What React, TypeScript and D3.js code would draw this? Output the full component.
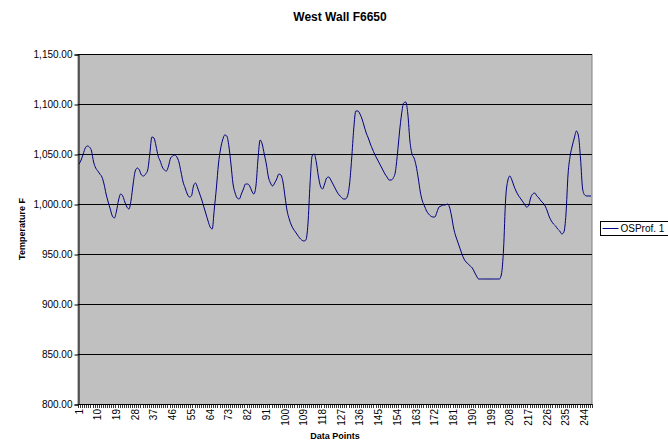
import { useEffect, useRef } from "react";
import * as d3 from "d3";

// West Wall F6650 - OSProf. 1 temperature readings (deg F), one value per data point
const temps = [
  1040, 1044, 1050, 1056, 1058, 1057, 1053, 1042, 1036, 1033,
  1030, 1027, 1020, 1010, 1002, 995, 988, 986, 993, 1004,
  1010, 1008, 1002, 997, 995, 1004, 1020, 1033, 1036, 1034,
  1029, 1028, 1030, 1034, 1050, 1067, 1066, 1058, 1048, 1043,
  1037, 1034, 1033, 1038, 1046, 1048, 1049, 1047, 1042, 1032,
  1022, 1016, 1010, 1007, 1008, 1018, 1021, 1016, 1010, 1004,
  997, 990, 983, 977, 975, 995, 1016, 1040, 1055, 1064,
  1069, 1068, 1058, 1040, 1020, 1011, 1006, 1005, 1010, 1015,
  1020, 1020, 1018, 1013, 1010, 1018, 1045, 1064, 1060, 1050,
  1040, 1027, 1021, 1018, 1021, 1025, 1030, 1029, 1022, 1007,
  993, 985, 979, 975, 972, 969, 966, 964, 963, 964,
  980, 1020, 1048, 1050, 1042, 1028, 1018, 1015, 1020, 1026,
  1027, 1024, 1020, 1016, 1012, 1009, 1007, 1005, 1005, 1008,
  1020, 1045, 1075, 1093, 1093, 1090, 1085, 1078, 1071, 1066,
  1060, 1055, 1050, 1046, 1042, 1038, 1034, 1030, 1027, 1024,
  1024, 1026, 1032, 1050, 1072, 1090, 1101, 1102, 1090, 1063,
  1050, 1046, 1038, 1026, 1012, 1003, 998, 993, 990, 988,
  987, 987, 992, 997, 998, 999, 999, 1000, 997, 988,
  976, 968, 962, 956, 950, 945, 942, 940, 938, 936,
  932, 928, 925, 925, 925, 925, 925, 925, 925, 925,
  925, 925, 925, 930, 955, 1005, 1023, 1028, 1024, 1018,
  1013, 1009, 1006, 1003, 1000, 997, 998, 1006, 1010, 1011,
  1008, 1006, 1003, 1001, 998, 993, 987, 983, 980, 978,
  975, 973, 970, 972, 990, 1030, 1048, 1058, 1066, 1073,
  1068, 1045, 1015, 1009, 1008, 1008, 1008,
];
const points = temps.map((_, i) => i + 1);
const yTicks = [800, 850, 900, 950, 1000, 1050, 1100, 1150];
const labelStep = 9;
const seriesName = "OSProf. 1";

const W = 668,
  H = 444;
const margin = { top: 54, right: 76, bottom: 40, left: 78 };
const font = "Arial, 'Liberation Sans', sans-serif";

export default function App() {
  const ref = useRef<SVGSVGElement>(null);

  useEffect(() => {
    const svg = d3.select(ref.current);
    svg.selectAll("*").remove();

    const x0 = margin.left,
      x1 = W - margin.right,
      y0 = margin.top,
      y1 = H - margin.bottom;

    const x = d3.scaleBand<number>().domain(points).range([x0, x1]).padding(0);
    const y = d3.scaleLinear().domain([800, 1150]).range([y1, y0]);
    const bw = x.bandwidth();

    svg.append("rect").attr("width", W).attr("height", H).attr("fill", "#fff");

    // title
    svg
      .append("text")
      .attr("x", 340)
      .attr("y", 21)
      .attr("text-anchor", "middle")
      .attr("font-family", font)
      .attr("font-weight", "bold")
      .attr("font-size", 12)
      .text("West Wall F6650");

    // plot area
    svg
      .append("rect")
      .attr("x", x0)
      .attr("y", y0 + 0.5)
      .attr("width", x1 - x0)
      .attr("height", y1 - y0)
      .attr("fill", "#c0c0c0")
      .attr("stroke", "#808080")
      .attr("stroke-width", 1);

    // gridlines
    svg
      .append("g")
      .selectAll("line")
      .data(yTicks.filter((t) => t > 800))
      .join("line")
      .attr("x1", x0)
      .attr("x2", x1)
      .attr("y1", (d) => Math.round(y(d)) + 0.5)
      .attr("y2", (d) => Math.round(y(d)) + 0.5)
      .attr("stroke", "#000")
      .attr("stroke-width", 1);

    // y axis
    const yAxis = svg
      .append("g")
      .attr("transform", `translate(${x0 + 0.5},0.5)`)
      .call(
        d3
          .axisLeft(y)
          .tickValues(yTicks)
          .tickSize(4)
          .tickPadding(2)
          .tickFormat((d) => d3.format(",.2f")(d as number))
      );
    yAxis.select(".domain").attr("stroke", "#000");
    yAxis.selectAll(".tick line").attr("stroke", "#000");
    yAxis.selectAll("text").attr("font-family", font).attr("font-size", 10).attr("fill", "#000");

    // x axis line + tick marks at category boundaries
    const xg = svg.append("g");
    xg.append("line")
      .attr("x1", x0)
      .attr("x2", x1)
      .attr("y1", y1 + 0.5)
      .attr("y2", y1 + 0.5)
      .attr("stroke", "#000");
    const bounds = points.map((p) => x(p)!).concat([x1]);
    xg.selectAll("line.tk")
      .data(bounds)
      .join("line")
      .attr("class", "tk")
      .attr("x1", (d) => Math.round(d) + 0.5)
      .attr("x2", (d) => Math.round(d) + 0.5)
      .attr("y1", y1)
      .attr("y2", y1 + 4)
      .attr("stroke", "#000")
      .attr("stroke-width", 0.8);

    xg.selectAll("text")
      .data(points.filter((p) => (p - 1) % labelStep === 0))
      .join("text")
      .attr("transform", (d) => `translate(${x(d)! + bw / 2},${y1 + 5}) rotate(-90)`)
      .attr("text-anchor", "end")
      .attr("dy", "0.35em")
      .attr("font-family", font)
      .attr("font-size", 10)
      .text((d) => d);

    // axis titles
    svg
      .append("text")
      .attr("x", 335)
      .attr("y", 439)
      .attr("text-anchor", "middle")
      .attr("font-family", font)
      .attr("font-weight", "bold")
      .attr("font-size", 9)
      .text("Data Points");

    svg
      .append("text")
      .attr("transform", `translate(25,${(y0 + y1) / 2}) rotate(-90)`)
      .attr("text-anchor", "middle")
      .attr("font-family", font)
      .attr("font-weight", "bold")
      .attr("font-size", 9)
      .text("Temperature F");

    // series
    const line = d3
      .line<number>()
      .x((_, i) => x(points[i])! + bw / 2)
      .y((d) => y(d))
      .curve(d3.curveMonotoneX);
    svg
      .append("path")
      .datum(temps)
      .attr("fill", "none")
      .attr("stroke", "#000080")
      .attr("stroke-width", 1)
      .attr("d", line);

    // legend
    const lg = svg.append("g").attr("transform", "translate(600.5,221.5)");
    lg.append("rect")
      .attr("width", 72)
      .attr("height", 14)
      .attr("fill", "#fff")
      .attr("stroke", "#000");
    lg.append("line")
      .attr("x1", 2)
      .attr("x2", 18)
      .attr("y1", 7)
      .attr("y2", 7)
      .attr("stroke", "#000080")
      .attr("stroke-width", 1);
    lg.append("text")
      .attr("x", 20)
      .attr("y", 7)
      .attr("dy", "0.35em")
      .attr("font-family", font)
      .attr("font-size", 10)
      .text(seriesName);
  }, []);

  return (
    <svg
      ref={ref}
      width={W}
      height={H}
      style={{ position: "absolute", left: 0, top: 0 }}
    />
  );
}
